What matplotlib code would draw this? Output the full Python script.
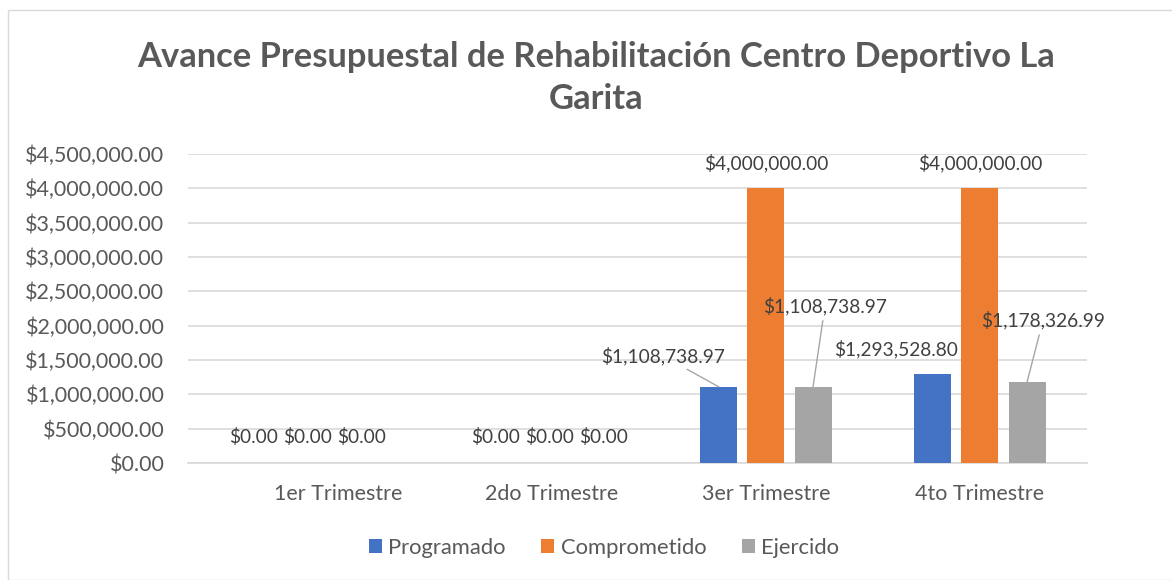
import matplotlib
matplotlib.use("Agg")
import matplotlib.pyplot as plt
from matplotlib.patches import Rectangle
from matplotlib.ticker import FuncFormatter
import numpy as np

# Datos
categorias = ["1er Trimestre", "2do Trimestre", "3er Trimestre", "4to Trimestre"]
series = ["Programado", "Comprometido", "Ejercido"]
programado = [0.00, 0.00, 1108738.97, 1293528.80]
comprometido = [0.00, 0.00, 4000000.00, 4000000.00]
ejercido = [0.00, 0.00, 1108738.97, 1178326.99]
y_ticks = np.arange(0, 4500001, 500000)

colores = ["#4472C4", "#ED7D31", "#A5A5A5"]
texto = "#595959"
grid = "#D9D9D9"

# desplazamiento de cada etiqueta respecto a la parte alta de la barra (px) y si lleva línea guía
offsets = {
    (0, 0): (-37, 26, False), (1, 0): (-30, 26, False), (2, 0): (-23, 26, False),
    (0, 1): (-9, 26, False), (1, 1): (-2, 26, False), (2, 1): (5, 26, False),
    (0, 2): (-56, 31, True), (1, 2): (0, 25, False), (2, 2): (12, 81, True),
    (0, 3): (-37, 25, False), (1, 3): (0, 25, False), (2, 3): (16, 62, True),
}

plt.rcParams["font.family"] = ["Lato", "DejaVu Sans"]

fig = plt.figure(figsize=(11.72, 5.8), dpi=100)
fig.patches.append(Rectangle((8 / 1172, 0), 1.2, 1 - 10 / 580, transform=fig.transFigure,
                             fill=False, edgecolor="#D9D9D9", lw=1))

ax = fig.add_axes([188 / 1172, (580 - 463) / 580, (1087 - 188) / 1172, (463 - 154) / 580])

x = np.arange(len(categorias))
ancho = 0.173
paso = 0.22
valores = [programado, comprometido, ejercido]

for s, (nombre, vals) in enumerate(zip(series, valores)):
    pos = x + (s - 1) * paso
    ax.bar(pos, vals, ancho, color=colores[s], label=nombre, zorder=3)
    for c, v in enumerate(vals):
        dx, dy, guia = offsets[(s, c)]
        props = None
        if guia:
            props = dict(arrowstyle="-", color="#A6A6A6", lw=1, shrinkA=2, shrinkB=0)
        ax.annotate(f"${v:,.2f}", xy=(pos[c], v), xytext=(dx, dy),
                    textcoords="offset pixels", ha="center", va="center",
                    fontsize=13.8, color="#404040", arrowprops=props, zorder=4,
                    annotation_clip=False)

ax.set_xlim(-0.70, 3.5)
ax.set_ylim(0, 4500000)
ax.set_yticks(y_ticks)
ax.yaxis.set_major_formatter(FuncFormatter(lambda v, p: f"${v:,.2f}"))
ax.set_xticks(x)
ax.set_xticklabels(categorias)
ax.tick_params(axis="both", length=0, labelsize=15.5, colors=texto)
ax.tick_params(axis="y", pad=17)
ax.tick_params(axis="x", pad=15)
ax.grid(axis="y", color=grid, lw=1.2, zorder=0)
for lado in ["top", "right", "left"]:
    ax.spines[lado].set_visible(False)
ax.spines["bottom"].set_color(grid)
ax.spines["bottom"].set_linewidth(1.2)

fig.text(596 / 1172, 1 - 78 / 580, "Avance Presupuestal de Rehabilitación Centro Deportivo La\nGarita",
         ha="center", va="center", fontsize=24.8, fontweight="bold", color=texto, linespacing=1.42)

ax.legend(loc="center", bbox_to_anchor=(604 / 1172, 1 - 548 / 580), bbox_transform=fig.transFigure,
          ncol=3, frameon=False, fontsize=15.8, handlelength=0.6, handleheight=0.6,
          handletextpad=0.3, columnspacing=1.6, labelcolor=texto)

fig.savefig("out.png", dpi=100, facecolor="white")
